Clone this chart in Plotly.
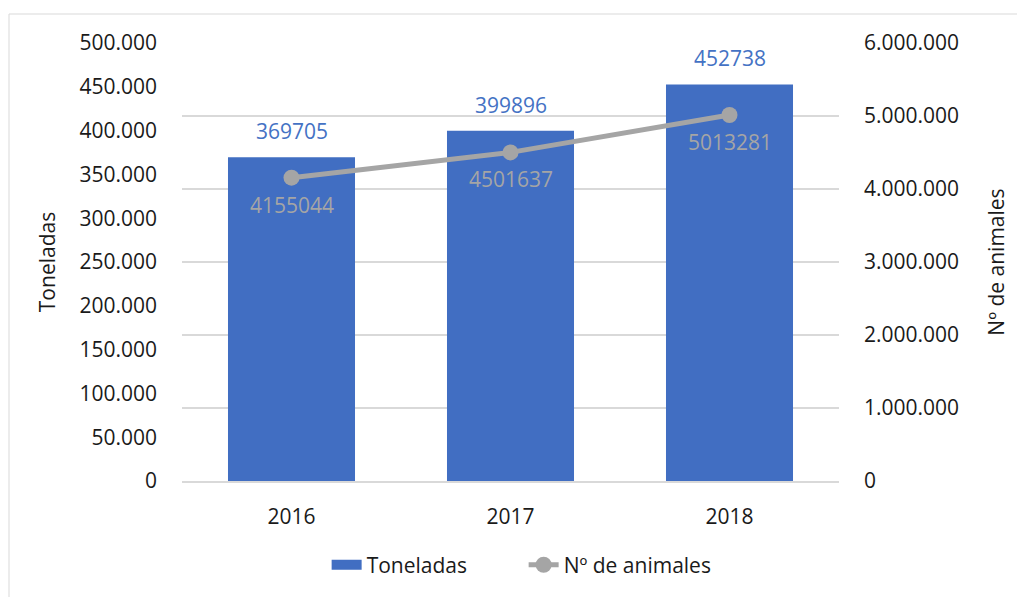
import plotly.graph_objects as go

# Datos
years = ["2016", "2017", "2018"]
toneladas = [369705, 399896, 452738]
animales = [4155044, 4501637, 5013281]

FONT = "Open Sans"
BLUE = "#4472C4"
BAR = "#416EC2"
GRAY = "#A5A5A5"
GRID = "#D9D9D9"
TEXT = "#1A1A1A"

fig = go.Figure()

# Barras: toneladas (eje izquierdo)
fig.add_trace(go.Bar(
    x=years, y=toneladas, name="Toneladas",
    marker=dict(color=BAR, line=dict(width=0)),
    yaxis="y", showlegend=False, legendgroup="ton",
))

# Entrada de leyenda con muestra rectangular ancha
fig.add_trace(go.Scatter(
    x=[None], y=[None], name="Toneladas", mode="lines",
    line=dict(color=BAR, width=12), legendgroup="ton",
    hoverinfo="skip",
))

# Línea: número de animales (eje derecho)
fig.add_trace(go.Scatter(
    x=years, y=animales, name="Nº de animales",
    mode="lines+markers",
    line=dict(color=GRAY, width=5),
    marker=dict(color=GRAY, size=16, line=dict(width=0)),
    yaxis="y2",
))

# Etiquetas de valor (en eje de categorías se usa el índice de la categoría)
annotations = []
for i, v in enumerate(toneladas):
    annotations.append(dict(
        x=i, y=v, xref="x", yref="y", text=str(v), showarrow=False,
        yanchor="bottom", yshift=10,
        font=dict(family=FONT, size=21, color=BLUE),
    ))
for i, v in enumerate(animales):
    annotations.append(dict(
        x=i, y=v, xref="x", yref="y2", text=str(v), showarrow=False,
        yanchor="middle", yshift=-27,
        font=dict(family=FONT, size=21, color=GRAY),
    ))

fig.update_layout(
    width=1017, height=597,
    margin=dict(l=182, r=178, t=43, b=116, autoexpand=False),
    paper_bgcolor="white", plot_bgcolor="white",
    separators=",.",
    font=dict(family=FONT, size=21, color=TEXT),
    bargap=0.42,
    showlegend=True,
    legend=dict(
        orientation="h", x=0.52, xanchor="center", y=-0.192, yanchor="middle",
        font=dict(family=FONT, size=21, color=TEXT),
        itemwidth=30, traceorder="normal",
        entrywidth=152, entrywidthmode="pixels",
    ),
    xaxis=dict(
        type="category", range=[-0.5, 2.5],
        showgrid=False, showline=True, linecolor=GRID, linewidth=2,
        ticks="", ticklabelstandoff=16,
        tickfont=dict(family=FONT, size=21, color=TEXT),
    ),
    yaxis=dict(
        range=[0, 500000], dtick=50000, tickformat=",d",
        showgrid=False, zeroline=False, showline=False, ticks="",
        ticklabelstandoff=24, automargin=False,
        tickfont=dict(family=FONT, size=21, color=TEXT),
        title=dict(text="Toneladas", standoff=18,
                   font=dict(family=FONT, size=21, color=TEXT)),
    ),
    yaxis2=dict(
        range=[0, 6000000], dtick=1000000, tickformat=",d",
        overlaying="y", side="right",
        showgrid=True, gridcolor=GRID, gridwidth=2,
        zeroline=False, showline=False, ticks="",
        ticklabelstandoff=24, automargin=False,
        tickfont=dict(family=FONT, size=21, color=TEXT),
        title=dict(text="Nº de animales", standoff=31,
                   font=dict(family=FONT, size=21, color=TEXT)),
    ),
    annotations=annotations,
    shapes=[dict(
        type="rect", xref="paper", yref="paper",
        x0=-0.2633, x1=1.3, y0=-0.3, y1=1.0662,
        line=dict(color=GRID, width=1), fillcolor="rgba(0,0,0,0)",
        layer="below",
    )],
)

fig.write_html("out.html")
